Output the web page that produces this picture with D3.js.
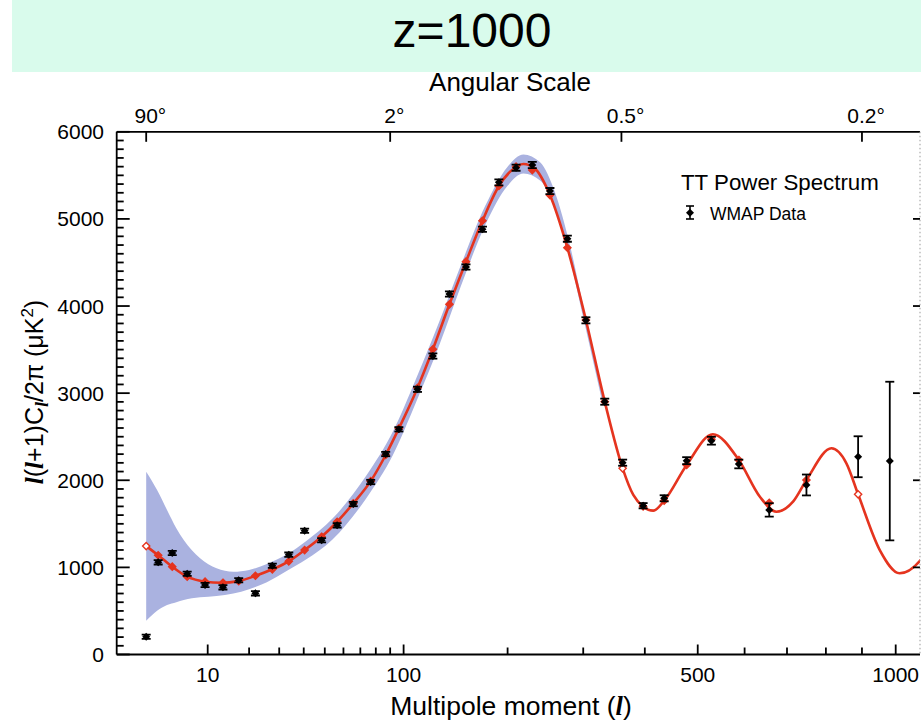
<!DOCTYPE html>
<html><head><meta charset="utf-8">
<script src="https://cdn.jsdelivr.net/npm/d3@7"></script>
<style>
body{margin:0;background:#fff;}
svg{display:block;font-family:"Liberation Sans",Arial,Helvetica,sans-serif;}
</style>
</head><body>
<svg id="chart" width="921" height="722"></svg>
<script>
// ---------------- data ----------------
const titleText = "z=1000";
// WMAP binned data (multipole l, value in uK^2, error half-width)
const dataL   = [2, 3, 4.5, 6.5, 9.5, 13.2, 17.1, 21.9, 27.5, 33.7, 40.4, 48.4, 56.5, 65.7, 76.6, 86.8, 96.4,
                 111, 124, 139, 155, 172, 190, 210, 230, 253, 277, 304, 333, 362, 397, 435, 478, 528, 587, 657, 749, 889, 982];
const dataV   = [204, 1058, 1165, 927, 798, 771, 852, 702, 1019, 1146, 1421, 1311, 1483, 1727, 1980, 2301, 2585,
                 3044, 3426, 4138, 4448, 4881, 5420, 5588, 5619, 5320, 4773, 3836, 2902, 2202, 1708, 1793, 2225, 2454, 2187, 1659, 1946, 2270, 2221];
const dataErr = [25, 25, 25, 25, 25, 25, 25, 25, 25, 25, 25, 25, 25, 25, 25, 25, 25,
                 30, 30, 30, 30, 30, 35, 35, 35, 35, 35, 35, 35, 35, 30, 35, 40, 45, 50, 77, 120, 235, 910];
// model binned values (red diamonds); open = hollow marker
const modelL    = [2, 3, 4.5, 6.5, 9.5, 13.2, 17.1, 21.9, 27.5, 33.7, 40.4, 48.4, 56.5, 65.7, 76.6, 86.8, 96.4,
                   111, 124, 139, 155, 172, 190, 210, 230, 253, 277, 304, 333, 362, 397, 435, 478, 528, 587, 657, 749, 889];
const modelV    = [1245, 1139, 1008, 893, 836, 824, 842, 904, 978, 1070, 1199, 1352, 1524, 1735, 1990, 2290, 2595,
                   3060, 3503, 4020, 4509, 4979, 5378, 5600, 5561, 5274, 4669, 3840, 2902, 2137, 1700, 1765, 2175, 2470, 2233, 1742, 2003, 1839];
const modelOpen = [1, 0, 0, 0, 0, 0, 0, 0, 0, 0, 0, 0, 0, 0, 0, 0, 0,
                   0, 0, 0, 0, 0, 0, 0, 0, 0, 0, 0, 0, 1, 0, 0, 0, 0, 0, 0, 0, 1];
// best-fit model curve
const curveL = [2, 3, 4.5, 6.5, 9.5, 12.8, 17, 22, 27.5, 33.7, 40.4, 48.4, 56.5, 65.7, 76.6, 86.8, 96.4,
                111, 124, 139, 155, 172, 190, 205, 219, 233, 253, 277, 304, 333, 362, 380, 397, 415, 435, 478, 531, 587, 635, 674, 715, 749, 815, 856, 889, 952, 1012, 1078, 1110];
const curveV = [1245, 1139, 1008, 893, 836, 824, 842, 904, 978, 1070, 1199, 1352, 1524, 1735, 1990, 2290, 2595,
                3060, 3503, 4020, 4509, 4979, 5378, 5560, 5630, 5580, 5274, 4669, 3840, 2902, 2137, 1831, 1697, 1651, 1765, 2175, 2528, 2233, 1811, 1639, 1754, 2003, 2367, 2195, 1839, 1199, 932, 1085, 1250];
// cosmic variance band (upper / lower edge)
const bandL  = [2, 2.9, 3.9, 5, 6, 8.6, 11.8, 15.7, 20, 25.6, 33, 41, 54, 74, 92, 110, 130, 150, 175, 200, 219, 240, 260, 280, 300, 330];
const bandHi = [2098, 1888, 1659, 1450, 1314, 1104, 989, 950, 970, 1040, 1150, 1300, 1560, 2060, 2560, 3170, 3830, 4470, 5150, 5600, 5740, 5650, 5300, 4720, 4000, 2950];
const bandLo = [388, 503, 568, 600, 626, 657, 672, 700, 750, 830, 960, 1090, 1320, 1800, 2290, 2900, 3560, 4230, 4930, 5380, 5520, 5440, 5120, 4560, 3870, 2870];
// axes
const xMajor = [10, 100, 500, 1000];
const xMinor = [20, 30, 40, 50, 60, 70, 80, 90, 200, 300, 400, 600, 700, 800, 900];
const yMajor = [0, 1000, 2000, 3000, 4000, 5000, 6000];
const angleLabels = ["90", "2", "0.5", "0.2"];
const angleDeg = [90, 2, 0.5, 0.2];

// ---------------- layout ----------------
const svg = d3.select("#chart");
const L = 116.7, R = 920, T = 131.8, B = 654.5;
const x = d3.scalePow().exponent(0.4).domain([10, 1000]).range([207.7, 895.7]);
const y = d3.scaleLinear().domain([0, 6000]).range([B, T]);

// title band
svg.append("rect").attr("x", 12).attr("y", 0).attr("width", 909).attr("height", 72).attr("fill", "#d9fbec");
svg.append("text").attr("x", 472).attr("y", 47).attr("text-anchor", "middle")
  .attr("font-size", 48).attr("fill", "#000").text(titleText);

// clip
svg.append("clipPath").attr("id", "plotclip").append("rect")
  .attr("x", L).attr("y", T).attr("width", R - L).attr("height", B - T);
const plot = svg.append("g").attr("clip-path", "url(#plotclip)");

// band
const band = bandL.map((l, i) => ({l, hi: bandHi[i], lo: bandLo[i]}));
plot.append("path").datum(band)
  .attr("d", d3.area().x(d => x(d.l)).y0(d => y(d.lo)).y1(d => y(d.hi)).curve(d3.curveMonotoneX))
  .attr("fill", "#aab2e0").attr("stroke", "none");

// model curve
const curve = curveL.map((l, i) => ({l, v: curveV[i]}));
plot.append("path").datum(curve)
  .attr("d", d3.line().x(d => x(d.l)).y(d => y(d.v)).curve(d3.curveMonotoneX))
  .attr("fill", "none").attr("stroke", "#e5341f").attr("stroke-width", 2.6);

// model markers
const diamond = (cx, cy, r) => `M${cx},${cy - r}L${cx + r},${cy}L${cx},${cy + r}L${cx - r},${cy}Z`;
plot.selectAll("path.mk").data(modelL.map((l, i) => ({l, v: modelV[i], open: modelOpen[i]})))
  .enter().append("path").attr("class", "mk")
  .attr("d", d => diamond(x(d.l), y(d.v), 3.6))
  .attr("fill", d => d.open ? "#fff" : "#e5341f")
  .attr("stroke", "#e5341f").attr("stroke-width", 1.4);

// data points
const pts = dataL.map((l, i) => ({l, v: dataV[i], e: dataErr[i]}));
const pg = plot.selectAll("g.pt").data(pts).enter().append("g").attr("class", "pt");
pg.append("line").attr("x1", d => x(d.l)).attr("x2", d => x(d.l))
  .attr("y1", d => y(d.v - d.e)).attr("y2", d => y(d.v + d.e)).attr("stroke", "#000").attr("stroke-width", 1.8);
pg.append("line").attr("x1", d => x(d.l) - 4.5).attr("x2", d => x(d.l) + 4.5)
  .attr("y1", d => y(d.v - d.e)).attr("y2", d => y(d.v - d.e)).attr("stroke", "#000").attr("stroke-width", 1.8);
pg.append("line").attr("x1", d => x(d.l) - 4.5).attr("x2", d => x(d.l) + 4.5)
  .attr("y1", d => y(d.v + d.e)).attr("y2", d => y(d.v + d.e)).attr("stroke", "#000").attr("stroke-width", 1.8);
pg.append("path").attr("d", d => diamond(x(d.l), y(d.v), 4)).attr("fill", "#000");

// ---------------- axes ----------------
const ax = svg.append("g").attr("stroke", "#000").attr("stroke-width", 1.8);
ax.append("line").attr("x1", L).attr("x2", L).attr("y1", T).attr("y2", B);
ax.append("line").attr("x1", L).attr("x2", R).attr("y1", T).attr("y2", T);
ax.append("line").attr("x1", L).attr("x2", R).attr("y1", B).attr("y2", B);
svg.append("line").attr("x1", R).attr("x2", R).attr("y1", T).attr("y2", B)
  .attr("stroke", "#999").attr("stroke-width", 1).attr("stroke-dasharray", "1.5,2.5");

// left ticks
const yMinor = d3.range(0, 6001, 100).filter(v => v % 1000 !== 0);
ax.selectAll("line.ymin").data(yMinor).enter().append("line")
  .attr("x1", L).attr("x2", L + 7).attr("y1", d => y(d)).attr("y2", d => y(d));
ax.selectAll("line.ymaj").data(yMajor).enter().append("line")
  .attr("x1", L).attr("x2", L + 13).attr("y1", d => y(d)).attr("y2", d => y(d));
// right ticks
ax.selectAll("line.yr").data(yMajor.slice(1, -1)).enter().append("line")
  .attr("x1", R).attr("x2", R - 7).attr("y1", d => y(d)).attr("y2", d => y(d));
// bottom ticks
ax.selectAll("line.xmin").data(xMinor).enter().append("line")
  .attr("x1", d => x(d)).attr("x2", d => x(d)).attr("y1", B).attr("y2", B - 7);
ax.selectAll("line.xmaj").data(xMajor).enter().append("line")
  .attr("x1", d => x(d)).attr("x2", d => x(d)).attr("y1", B).attr("y2", B - 10);
// top ticks (angular scale, l = 180/theta)
ax.selectAll("line.top").data(angleDeg).enter().append("line")
  .attr("x1", d => x(180 / d)).attr("x2", d => x(180 / d)).attr("y1", T).attr("y2", T + 10);

// labels
svg.selectAll("text.yl").data(yMajor).enter().append("text")
  .attr("x", 104).attr("y", d => y(d) + 7.5).attr("text-anchor", "end").attr("font-size", 21).text(d => d);
svg.selectAll("text.xl").data(xMajor).enter().append("text")
  .attr("x", d => x(d)).attr("y", 682).attr("text-anchor", "middle").attr("font-size", 21).text(d => d);
angleDeg.forEach((d, i) => {
  const t = svg.append("text").attr("x", x(180 / d)).attr("y", 123).attr("text-anchor", "middle")
    .attr("font-size", 21).text(angleLabels[i]);
  const w = t.node().getComputedTextLength();
  svg.append("text").attr("x", x(180 / d) + w / 2).attr("y", 123).attr("font-size", 21).text("°");
});
svg.append("text").attr("x", 510).attr("y", 91).attr("text-anchor", "middle").attr("font-size", 26).text("Angular Scale");

const xl = svg.append("text").attr("x", 511).attr("y", 715).attr("text-anchor", "middle").attr("font-size", 26.5);
xl.append("tspan").text("Multipole moment (");
xl.append("tspan").attr("font-family", "Liberation Serif").attr("font-style", "italic").attr("font-weight", "bold").text("l");
xl.append("tspan").text(")");

const yl = svg.append("text").attr("transform", "translate(43,392) rotate(-90)").attr("text-anchor", "middle").attr("font-size", 25);
const ital = s => yl.append("tspan").attr("font-family", "Liberation Serif").attr("font-style", "italic").attr("font-weight", "bold").text(s);
ital("l");
yl.append("tspan").text("(");
ital("l");
yl.append("tspan").text("+1)C");
yl.append("tspan").attr("font-family", "Liberation Serif").attr("font-style", "italic").attr("font-weight", "bold").attr("font-size", 18).attr("dy", 5).text("l");
yl.append("tspan").attr("dy", -5).text("/2π (μK");
yl.append("tspan").attr("font-size", 17).attr("dy", -10).text("2");
yl.append("tspan").attr("dy", 10).text(")");

// legend
svg.append("text").attr("x", 681).attr("y", 190).attr("font-size", 22.3).text("TT Power Spectrum");
const lg = svg.append("g").attr("stroke", "#000").attr("stroke-width", 1.6);
lg.append("line").attr("x1", 690).attr("x2", 690).attr("y1", 206).attr("y2", 219);
lg.append("line").attr("x1", 686).attr("x2", 694).attr("y1", 206).attr("y2", 206);
lg.append("line").attr("x1", 686).attr("x2", 694).attr("y1", 219).attr("y2", 219);
svg.append("path").attr("d", diamond(690, 212.7, 4)).attr("fill", "#000");
svg.append("text").attr("x", 710).attr("y", 220).attr("font-size", 17.5).text("WMAP Data");
</script>
</body></html>
